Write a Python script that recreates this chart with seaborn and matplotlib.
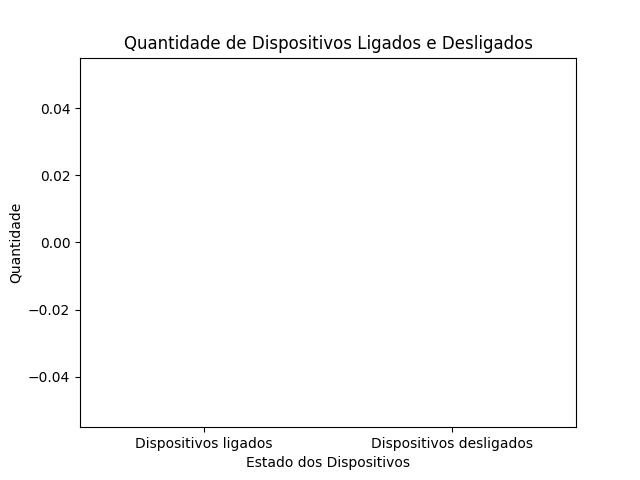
import matplotlib
matplotlib.use("Agg")
import matplotlib.pyplot as plt
import seaborn as sns
import pandas as pd

# ===========================
# DATA
# ===========================
estados = ["Dispositivos ligados", "Dispositivos desligados"]
quantidades = [0, 0]

df = pd.DataFrame({"estado": estados, "quantidade": quantidades})

fig, ax = plt.subplots(figsize=(6.4, 4.8), dpi=100)
sns.barplot(data=df, x="estado", y="quantidade", ax=ax)

ax.set_title("Quantidade de Dispositivos Ligados e Desligados")
ax.set_xlabel("Estado dos Dispositivos")
ax.set_ylabel("Quantidade")

fig.savefig("out.png")
